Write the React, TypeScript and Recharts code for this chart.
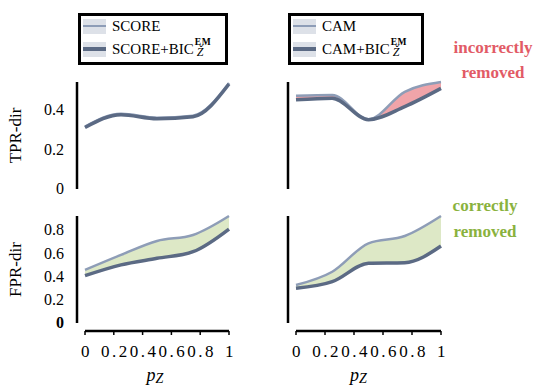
import React from 'react';
import { ComposedChart, Line, Area, XAxis, YAxis, Legend } from 'recharts';

const serif = '"Liberation Serif", "Times New Roman", serif';

// p_Z grid
const pz = [0, 0.25, 0.5, 0.75, 1];

// TPR-dir
const scoreTpr = [0.315, 0.38, 0.36, 0.37, 0.535];
const scoreBicTpr = [0.31, 0.375, 0.355, 0.365, 0.53];
const camTpr = [0.47, 0.475, 0.352, 0.49, 0.54];
const camBicTpr = [0.45, 0.458, 0.35, 0.416, 0.508];

// FPR-dir
const scoreFpr = [0.456, 0.585, 0.705, 0.757, 0.92];
const scoreBicFpr = [0.407, 0.5, 0.556, 0.613, 0.808];
const camFpr = [0.327, 0.441, 0.685, 0.748, 0.92];
const camBicFpr = [0.298, 0.355, 0.513, 0.518, 0.662];

const xTicks = [0, 0.2, 0.4, 0.6, 0.8, 1];
const tprTicks = [0, 0.2, 0.4];
const fprTicks = [0, 0.2, 0.4, 0.6, 0.8];

const LIGHT = '#8e9db7';
const DARK = '#5b6a84';
const RED_FILL = '#f0a4a9';
const GREEN_FILL = '#dde8c6';

const buildRows = (base: number[], bic: number[]) =>
  pz.map((p, i) => ({ p, base: base[i], bic: bic[i], band: [bic[i], base[i]] }));

const Scripts = () => (
  <span
    style={{
      display: 'inline-flex',
      flexDirection: 'column',
      lineHeight: 1,
      marginLeft: 1,
      position: 'relative',
      top: -1,
    }}
  >
    <span style={{ fontSize: 9.5, fontWeight: 'bold', letterSpacing: 0.5 }}>EM</span>
    <span style={{ fontSize: 12, fontStyle: 'italic', marginLeft: 2, marginTop: -1 }}>Ž</span>
  </span>
);

const makeLegend = (width: number) => (props: any) => {
  const items = ['base', 'bic']
    .map((k) => (props.payload || []).find((e: any) => e.dataKey === k))
    .filter(Boolean);
  return (
    <div
      style={{
        width,
        height: 52,
        boxSizing: 'border-box',
        border: '3px solid #000',
        background: '#fff',
        paddingLeft: 2,
        fontFamily: serif,
        fontSize: 15,
        color: '#000',
      }}
    >
      {items.map((entry: any, i: number) => (
        <div key={entry.dataKey} style={{ display: 'flex', alignItems: 'center', height: i === 0 ? 20 : 26 }}>
          <span style={{ position: 'relative', width: 23, height: 15, background: '#dde1e8', marginRight: 6, flex: 'none' }}>
            <span
              style={{
                position: 'absolute',
                left: 0,
                right: 0,
                top: i === 0 ? 6.5 : 5.5,
                height: i === 0 ? 2 : 4,
                background: entry.color,
              }}
            />
          </span>
          <span>{entry.value}</span>
          {i === 1 && <Scripts />}
        </div>
      ))}
    </div>
  );
};

const makeYTick = (boldZero: boolean) => (props: any) => {
  const { x, y, payload } = props;
  return (
    <text
      x={x}
      y={y}
      dy="0.34em"
      textAnchor="end"
      fill="#000"
      style={{ fontFamily: serif, fontSize: 16, fontWeight: boldZero && payload.value === 0 ? 'bold' : 'normal' }}
    >
      {payload.value}
    </text>
  );
};

const XTick = (props: any) => {
  const { x, y, payload } = props;
  return (
    <text
      x={x + 1.5}
      y={y + 30}
      textAnchor="middle"
      fill="#000"
      style={{ fontFamily: serif, fontSize: 17, letterSpacing: '2.5px' }}
    >
      {payload.value}
    </text>
  );
};

const makeYTitle = (text: string) => (props: any) => {
  const { viewBox } = props;
  const cy = viewBox.y + viewBox.height / 2;
  return (
    <text
      transform={`translate(${viewBox.x + 20.5} ${cy}) rotate(-90)`}
      textAnchor="middle"
      fill="#000"
      style={{ fontFamily: serif, fontSize: 17 }}
    >
      {text}
    </text>
  );
};

const makePzLabel = (shift: number) => (props: any) => {
  const { viewBox } = props;
  const cx = viewBox.x + viewBox.width / 2 + shift;
  return (
    <text x={cx} y={viewBox.y + 58} textAnchor="middle" fill="#000" style={{ fontFamily: serif }}>
      <tspan style={{ fontStyle: 'italic', fontSize: 18 }}>p</tspan>
      <tspan style={{ fontStyle: 'italic', fontSize: 14 }} dy={2}>Z</tspan>
    </text>
  );
};

type PanelProps = {
  left: number;
  top: number;
  width: number;
  height: number;
  margin: { top: number; right: number; bottom: number; left: number };
  yAxisWidth: number;
  base: number[];
  bic: number[];
  names: string[];
  bandColor: string;
  yDomain: [number, number];
  yTicks: number[];
  yTitle?: string;
  tickLabels: boolean;
  boldZero?: boolean;
  showX: boolean;
  pzShift?: number;
  legend?: { left: number; top: number; width: number };
};

const Panel = (p: PanelProps) => (
  <div style={{ position: 'absolute', left: p.left, top: p.top }}>
    <ComposedChart width={p.width} height={p.height} margin={p.margin} data={buildRows(p.base, p.bic)}>
      <XAxis
        type="number"
        dataKey="p"
        domain={[0, 1]}
        ticks={xTicks}
        hide={!p.showX}
        height={p.showX ? 62 : 0}
        interval={0}
        axisLine={{ stroke: '#000', strokeWidth: 2.5, transform: 'translate(0 8)' }}
        tickLine={{ stroke: '#000', strokeWidth: 1.5, transform: 'translate(0 8)' }}
        tickSize={4}
        tickMargin={0}
        tick={<XTick />}
        label={p.showX ? { content: makePzLabel(p.pzShift || 0) } : undefined}
      />
      <YAxis
        type="number"
        domain={p.yDomain}
        ticks={p.yTicks}
        width={p.yAxisWidth}
        interval={0}
        axisLine={{ stroke: '#000', strokeWidth: 2.5, transform: 'translate(-8 0)' }}
        tickLine={false}
        tickSize={0}
        tickMargin={21}
        tick={p.tickLabels ? makeYTick(!!p.boldZero) : false}
        label={p.yTitle ? { content: makeYTitle(p.yTitle) } : undefined}
      />
      {p.legend && (
        <Legend
          layout="vertical"
          align="center"
          verticalAlign="middle"
          wrapperStyle={{ left: p.legend.left, top: p.legend.top, width: 'auto' }}
          content={makeLegend(p.legend.width)}
        />
      )}
      <Area
        type="monotone"
        dataKey="band"
        stroke="none"
        fill={p.bandColor}
        fillOpacity={1}
        legendType="none"
        isAnimationActive={false}
      />
      <Line
        type="monotone"
        dataKey="base"
        name={p.names[0]}
        stroke={LIGHT}
        strokeWidth={2.5}
        dot={false}
        isAnimationActive={false}
      />
      <Line
        type="monotone"
        dataKey="bic"
        name={p.names[1]}
        stroke={DARK}
        strokeWidth={3.5}
        dot={false}
        isAnimationActive={false}
      />
    </ComposedChart>
  </div>
);

const annotationStyle = { fontFamily: serif, fontWeight: 'bold' as const, fontSize: 17 };

export default function App() {
  return (
    <div style={{ position: 'absolute', left: 0, top: 0, width: 537, height: 385, background: '#fff', overflow: 'hidden' }}>
      <Panel
        left={0}
        top={0}
        width={268}
        height={200}
        margin={{ top: 82, right: 39, bottom: 11, left: 0 }}
        yAxisWidth={85}
        base={scoreTpr}
        bic={scoreBicTpr}
        names={['SCORE', 'SCORE+BIC']}
        bandColor={RED_FILL}
        yDomain={[0, 0.54]}
        yTicks={tprTicks}
        yTitle="TPR-dir"
        tickLabels
        showX={false}
        legend={{ left: 78, top: 13, width: 150 }}
      />
      <Panel
        left={268}
        top={0}
        width={269}
        height={200}
        margin={{ top: 82, right: 96, bottom: 11, left: 0 }}
        yAxisWidth={28}
        base={camTpr}
        bic={camBicTpr}
        names={['CAM', 'CAM+BIC']}
        bandColor={RED_FILL}
        yDomain={[0, 0.54]}
        yTicks={tprTicks}
        tickLabels={false}
        showX={false}
        legend={{ left: 20, top: 13, width: 136 }}
      />
      <Panel
        left={0}
        top={200}
        width={268}
        height={185}
        margin={{ top: 16, right: 39, bottom: 0, left: 0 }}
        yAxisWidth={85}
        base={scoreFpr}
        bic={scoreBicFpr}
        names={['SCORE', 'SCORE+BIC']}
        bandColor={GREEN_FILL}
        yDomain={[0, 0.92]}
        yTicks={fprTicks}
        yTitle="FPR-dir"
        tickLabels
        boldZero
        showX
        pzShift={-2}
      />
      <Panel
        left={268}
        top={200}
        width={269}
        height={185}
        margin={{ top: 16, right: 96, bottom: 0, left: 0 }}
        yAxisWidth={28}
        base={camFpr}
        bic={camBicFpr}
        names={['CAM', 'CAM+BIC']}
        bandColor={GREEN_FILL}
        yDomain={[0, 0.92]}
        yTicks={fprTicks}
        tickLabels={false}
        showX
        pzShift={-10}
      />
      <svg width={537} height={385} style={{ position: 'absolute', left: 0, top: 0, pointerEvents: 'none' }}>
        <g textAnchor="middle" style={annotationStyle}>
          <text x={493} y={53} fill="#e25b66">incorrectly</text>
          <text x={493} y={78} fill="#e25b66">removed</text>
          <text x={485} y={211} fill="#8ab23e">correctly</text>
          <text x={485} y={236.5} fill="#8ab23e">removed</text>
        </g>
      </svg>
    </div>
  );
}
